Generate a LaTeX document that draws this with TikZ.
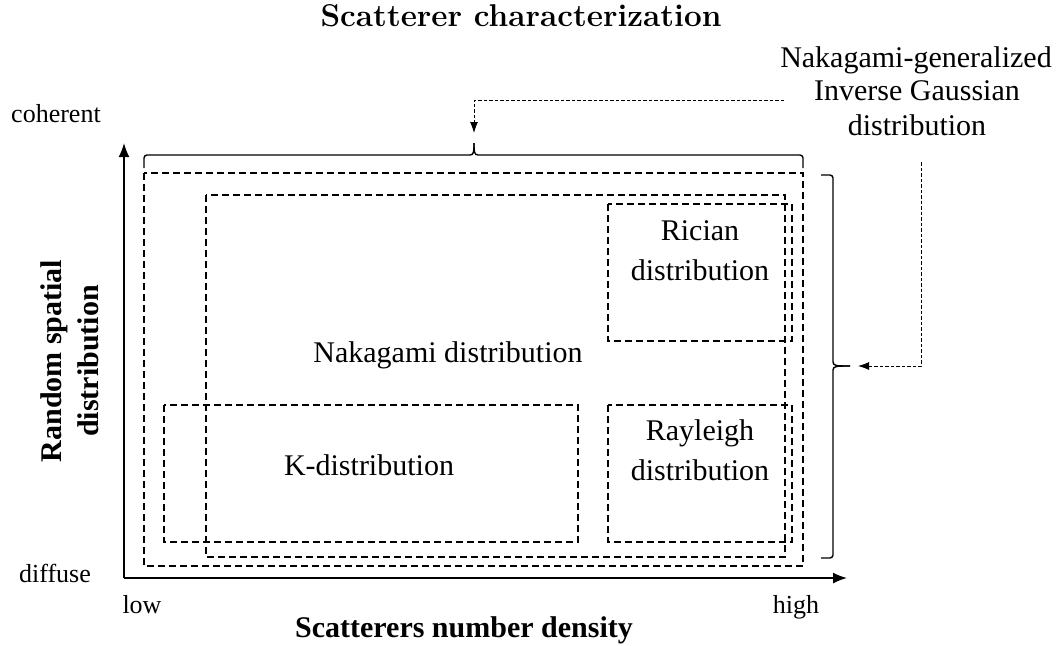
\documentclass[tikz,border=0pt]{standalone}
\usepackage{fontspec}
\newfontfamily\tnr{Liberation Serif}
\usetikzlibrary{arrows.meta}
\begin{document}
\begin{tikzpicture}[x=1pt,y=-1pt,
  box/.style={draw, dash pattern=on 7pt off 4pt, line width=1.1pt},
  lbl/.style={font=\tnr\fontsize{30}{39}\selectfont, align=center, inner sep=0pt},
  nig/.style={font=\tnr\fontsize{30}{34}\selectfont, align=center, inner sep=0pt},
  small/.style={font=\tnr\fontsize{26}{30}\selectfont, inner sep=0pt},
  axislab/.style={font=\tnr\bfseries\fontsize{30}{37}\selectfont, align=center, inner sep=0pt},
  axis/.style={line width=1.6pt, -{Latex[length=14pt,width=11pt]}},
  dotarrow/.style={line width=0.9pt, dash pattern=on 3.5pt off 2pt, -{Latex[length=11pt,width=8pt]}},
  brace/.style={line width=1.4pt}]
\useasboundingbox (0,0) rectangle (1062,645);

% title
\node[font=\bfseries\fontsize{31.5}{36}\selectfont, anchor=base, inner sep=0pt] (title) at (521,27) {Scatterer characterization};

% axes
\coordinate (origin) at (124,578);
\coordinate (ytip) at (124,143);
\coordinate (xtip) at (847,578);
\draw[axis] (origin) -- (ytip);
\draw[axis] (origin) -- (xtip);

% dashed regions
\draw[box] (144,173) rectangle (803,566);
\draw[box] (206,195) rectangle (785,557);
\draw[box] (608,204) rectangle (792,341);
\draw[box] (164,405) rectangle (578,542);
\draw[box] (608,405) rectangle (792,542);

% labels in regions
\node[lbl, anchor=base] (naka) at (448,362) {Nakagami distribution};
\node[lbl, anchor=base] (kdist) at (369,475) {K-distribution};
\node[lbl, anchor=base] (rician) at (700,240) {Rician};
\node[lbl, anchor=base] (rician2) at (700,280) {distribution};
\node[lbl, anchor=base] (rayl) at (700,440) {Rayleigh};
\node[lbl, anchor=base] (rayl2) at (700,480) {distribution};

% axis labels
\node[small, anchor=base] (coh) at (56,122) {coherent};
\node[small, anchor=base] (dif) at (55,582) {diffuse};
\node[small, anchor=base] (low) at (142,613) {low};
\node[small, anchor=base] (high) at (796,613) {high};
\node[axislab, anchor=base] (xlab) at (464,637) {Scatterers number density};
\node[axislab, rotate=90] (ylab) at (70,361) {Random spatial\\distribution};

% NIG label
\node[nig, anchor=base] (nig1) at (916,67) {Nakagami-generalized};
\node[nig, anchor=base] (nig2) at (917,100) {Inverse Gaussian};
\node[nig, anchor=base] (nig3) at (917,135) {distribution};

% top brace
\coordinate (topcusp) at (474,143);
\draw[brace, rounded corners=3pt] (144,168) -- (144,155) -- (470,155);
\draw[brace] (470,155) .. controls (474,155) and (474,151) .. (topcusp);
\draw[brace] (478,155) .. controls (474,155) and (474,151) .. (topcusp);
\draw[brace, rounded corners=3pt] (478,155) -- (803,155) -- (803,168);

% right brace
\coordinate (rightcusp) at (850,366);
\draw[brace, rounded corners=3pt] (821,175) -- (833,175) -- (833,362);
\draw[brace] (833,362) .. controls (833,366) and (837,366) .. (rightcusp);
\draw[brace] (833,370) .. controls (833,366) and (837,366) .. (rightcusp);
\draw[brace, rounded corners=3pt] (833,370) -- (833,558) -- (821,558);

% dotted arrows
\coordinate (a1) at (784,100);
\coordinate (t1) at (474,133);
\draw[dotarrow] (a1) -| (t1);
\coordinate (a2) at (921,162);
\coordinate (t2) at (858,366);
\draw[dotarrow] (a2) |- (t2);
\end{tikzpicture}
\end{document}
